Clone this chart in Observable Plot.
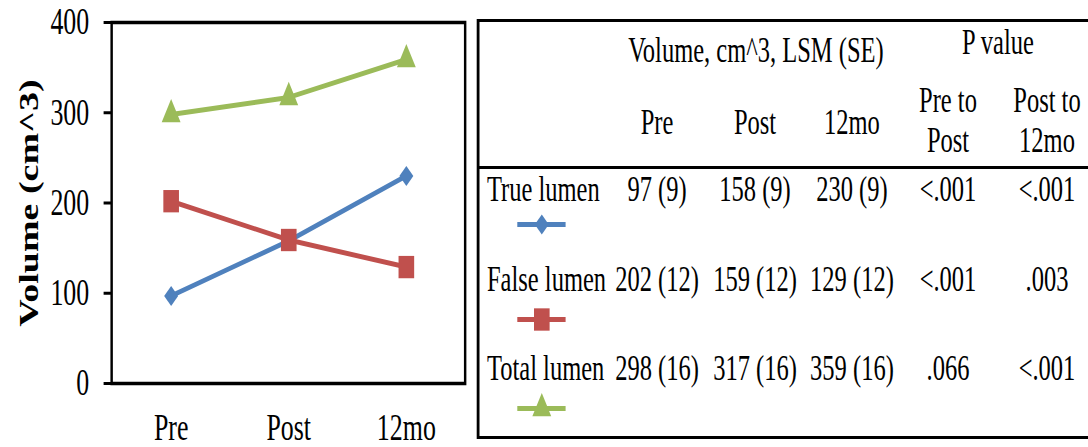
<!DOCTYPE html>
<html>
<head>
<meta charset="utf-8">
<script src="https://cdn.jsdelivr.net/npm/d3@7"></script>
<script src="https://cdn.jsdelivr.net/npm/@observablehq/plot@0.6"></script>
<style>
  html, body { margin: 0; padding: 0; background: #fff; overflow: hidden; }
  #page {
    position: relative; width: 1555px; height: 447px;
    transform: scaleX(0.7); transform-origin: 0 0;
    font-family: "Liberation Serif", "Times New Roman", serif; color: #000;
  }
  .abs { position: absolute; }
  .cell { position: absolute; font-size: 35px; line-height: 40px; white-space: nowrap; }
  .box { position: absolute; border: 3px solid #000; border-left-width: 4px; box-sizing: border-box; }
  .hline { position: absolute; background: #000; }
</style>
</head>
<body>
<div id="page"></div>
<script>
// ---------- data ----------
const categories = ["Pre", "Post", "12mo"];
const seriesNames = ["True lumen", "False lumen", "Total lumen"];
const trueLumen = [97, 158, 230];
const falseLumen = [202, 159, 129];
const totalLumen = [298, 317, 359];
const trueSE = [9, 9, 9];
const falseSE = [12, 12, 12];
const totalSE = [16, 16, 16];
const pPreToPost = ["<.001", "<.001", ".066"];
const pPostTo12mo = ["<.001", ".003", "<.001"];
const yTicks = [0, 100, 200, 300, 400];
const yTitle = "Volume (cm^3)";
const tableTitle = "Volume, cm^3, LSM (SE)";
const pTitle = "P value";
const pHeaders = ["Pre to<br>Post", "Post to<br>12mo"];

// ---------- styles ----------
const colors = ["#4F81BD", "#C0504D", "#9BBB59"];
const symbols = ["diamond2", "square", "triangle"];
const radii = [9, 12.6, 10];
const FONT = '"Liberation Serif", "Times New Roman", serif';

const values = [trueLumen, falseLumen, totalLumen];
const ses = [trueSE, falseSE, totalSE];
const rows = seriesNames.flatMap((s, i) =>
  categories.map((c, j) => ({ series: s, cat: c, value: values[i][j] })));

const page = document.getElementById("page");

// ---------- left chart ----------
const marks = [
  Plot.frame({ stroke: "#000", strokeWidth: 3.5 }),
  Plot.axisY({ ticks: yTicks, tickSize: 11, tickPadding: 21, fontSize: 37, strokeWidth: 3, label: null }),
  Plot.axisX({ tickSize: 0, tickPadding: 30, fontSize: 37, label: null }),
  Plot.text([yTitle], { frameAnchor: "left", dx: -117, rotate: -90, fontWeight: "bold", fontSize: 38,
    textAnchor: "middle", lineAnchor: "middle", fill: "#000" })
];
seriesNames.forEach((s, i) => {
  const d = rows.filter(r => r.series === s);
  marks.push(Plot.line(d, { x: "cat", y: "value", stroke: colors[i], strokeWidth: 5 }));
  marks.push(Plot.dot(d, { x: "cat", y: "value", symbol: () => symbols[i], r: radii[i], fill: colors[i], stroke: "none" }));
});
const chart = Plot.plot({
  width: 672, height: 447,
  marginLeft: 159, marginRight: 8, marginTop: 22, marginBottom: 64,
  style: { fontFamily: FONT, color: "#000", background: "transparent", overflow: "visible" },
  x: { type: "point", domain: categories, padding: 0.5 },
  y: { domain: [0, 400] },
  symbol: { type: "identity" },
  marks
});
chart.classList.add("abs");
chart.style.left = "0px"; chart.style.top = "0px";
page.appendChild(chart);

// ---------- table ----------
const box = document.createElement("div");
box.className = "box";
Object.assign(box.style, { left: "681px", top: "19px", width: "1000px", height: "420px" });
page.appendChild(box);
const hl = document.createElement("div");
hl.className = "hline";
Object.assign(hl.style, { left: "683px", top: "165.5px", width: "1000px", height: "3px" });
page.appendChild(hl);

const colCenters = [938.6, 1078.6, 1217.1, 1354.3, 1495.7];
const labelLeft = 695.7;
const rowBaselines = [202, 292, 381];
const markerCenters = [224, 319, 408];

function cell(html, x, baseline, align) {
  const el = document.createElement("div");
  el.className = "cell";
  el.innerHTML = html;
  const top = baseline - 31.8;
  if (align === "center") {
    Object.assign(el.style, { left: (x - 200) + "px", width: "400px", textAlign: "center", top: top + "px" });
  } else {
    Object.assign(el.style, { left: x + "px", top: top + "px" });
  }
  page.appendChild(el);
}
const esc = t => t.replace(/&/g, "&amp;").replace(/</g, "&lt;");

cell(esc(tableTitle), 1080, 63, "center");
cell(esc(pTitle), 1425.7, 55, "center");
categories.forEach((c, j) => cell(esc(c), colCenters[j], 135, "center"));
pHeaders.forEach((h, k) => cell(h, colCenters[3 + k], 113, "center"));

seriesNames.forEach((s, i) => {
  cell(esc(s), labelLeft, rowBaselines[i], "left");
  categories.forEach((c, j) => cell(`${values[i][j]} (${ses[i][j]})`, colCenters[j], rowBaselines[i], "center"));
  cell(esc(pPreToPost[i]), colCenters[3], rowBaselines[i], "center");
  cell(esc(pPostTo12mo[i]), colCenters[4], rowBaselines[i], "center");

  const m = Plot.plot({
    width: 69, height: 40, margin: 0,
    x: { axis: null, domain: [-1, 1] }, y: { axis: null, domain: [-1, 1] },
    symbol: { type: "identity" },
    style: { background: "transparent", overflow: "visible" },
    marks: [
      Plot.ruleY([0], { stroke: colors[i], strokeWidth: 5 }),
      Plot.dot([s], { frameAnchor: "middle", symbol: () => symbols[i], r: radii[i], fill: colors[i], stroke: "none" })
    ]
  });
  m.classList.add("abs");
  m.style.left = "738.6px";
  m.style.top = (markerCenters[i] - 20) + "px";
  page.appendChild(m);
});
</script>
</body>
</html>
